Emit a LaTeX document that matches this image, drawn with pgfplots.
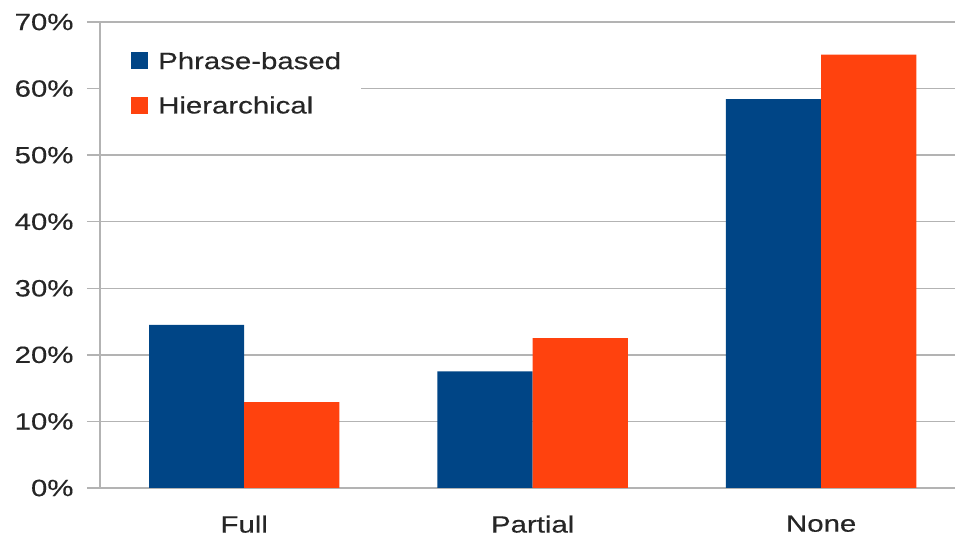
\documentclass[border=0pt]{standalone}
\usepackage{pgfplots}
\pgfplotsset{compat=1.18}
\usepackage{fontspec}
\setmainfont[FakeStretch=1.25,FakeBold=0.4]{Liberation Sans}
\definecolor{lblue}{HTML}{004586}
\definecolor{lorange}{HTML}{FF420E}
\definecolor{gridc}{HTML}{B3B3B3}
\definecolor{txt}{HTML}{262626}
\begin{document}
\begin{tikzpicture}
\begin{axis}[
  scale only axis,
  width=855pt, height=466pt,
  xmin=-0.5, xmax=2.464,
  ymin=0, ymax=70,
  ybar=0pt, bar width=95.2pt,
  axis lines=left,
  axis line style={-, draw=gridc, line width=1.5pt},
  xtick={0,1,2},
  xticklabels={Full,Partial,None},
  xtick style={draw=none},
  extra x ticks={-0.5,0.5,1.5},
  extra x tick labels={},
  extra x tick style={grid=none, tick style={draw=gridc, line width=1.5pt}},
  ytick={0,10,20,30,40,50,60,70},
  yticklabels={0\%,10\%,20\%,30\%,40\%,50\%,60\%,70\%},
  ytick style={draw=gridc, line width=1.5pt},
  tick align=outside,
  major tick length=13pt,
  ymajorgrids,
  major grid style={draw=gridc, line width=1.5pt},
  tick label style={font=\fontsize{23.5}{28}\selectfont, text=txt},
  yticklabel style={xshift=-10pt},
  xticklabel style={yshift=-11pt},
  legend style={at={(0,1)}, anchor=north west, xshift=1pt, yshift=-20pt,
    draw=none, fill=white, font=\fontsize{23.5}{28}\selectfont, text=txt,
    inner xsep=0pt, inner ysep=10pt, row sep=27.4pt,
    nodes={inner sep=0pt, text height=16.8pt, text depth=0pt}},
  legend cell align=left,
  legend image code/.code={%
    \path[draw=none, fill=none] (0pt,-8.5pt) rectangle (57pt,8.5pt);
    \fill[#1] (30pt,-8.5pt) rectangle (47pt,8.5pt);},
]
\addplot[fill=lblue, draw=none] coordinates {(0,24.5) (1,17.5) (2,58.4)};
\addplot[fill=lorange, draw=none] coordinates {(0,12.9) (1,22.5) (2,65.1)};
\legend{Phrase-based\hspace*{20pt},Hierarchical}
\end{axis}
\pgfresetboundingbox
\path (-100pt,-52pt) rectangle (855pt,488pt);
\end{tikzpicture}
\end{document}
